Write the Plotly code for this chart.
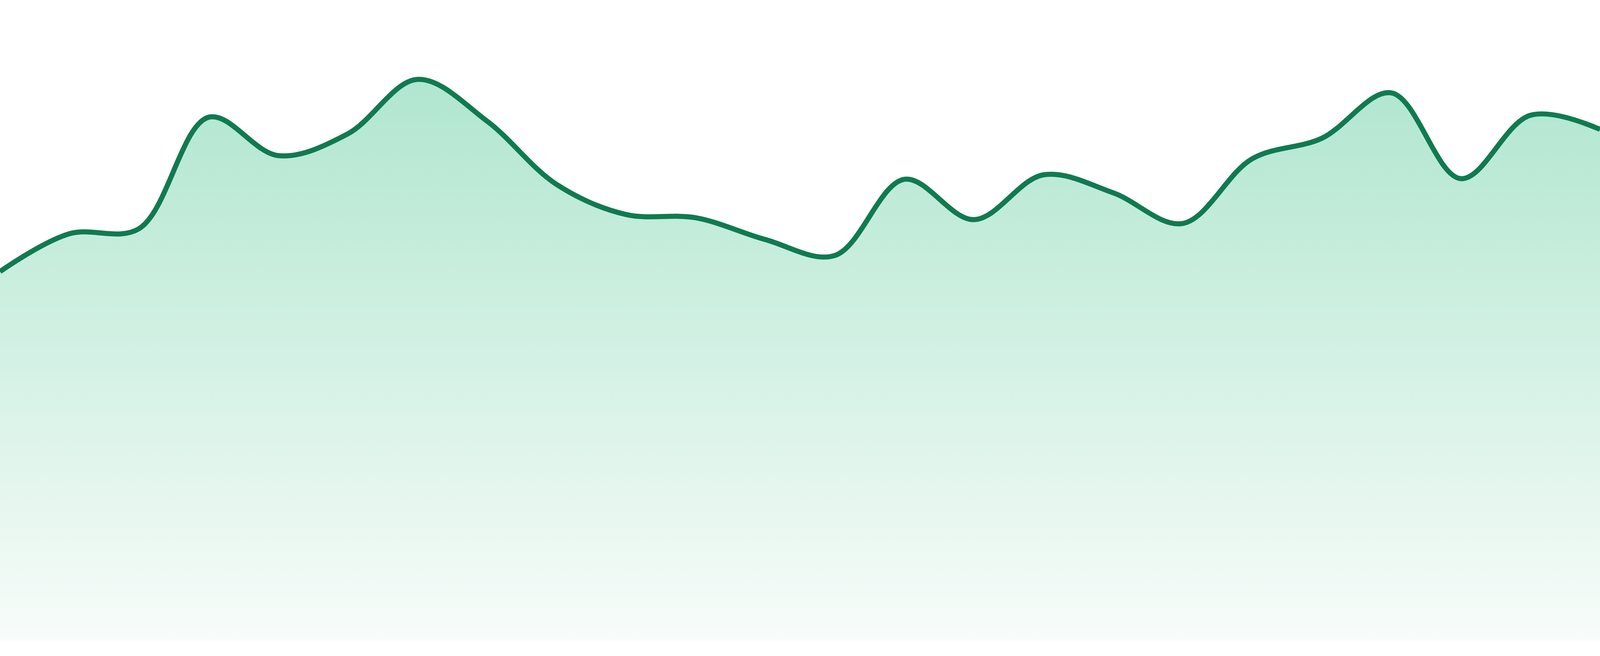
import plotly.graph_objects as go

# data points
steps = list(range(24))
values = [57.6, 63.5, 64.3, 81.7, 75.7, 79.1, 87.6, 81.1, 71.2, 66.5, 66.0, 62.6,
          60.1, 72.0, 65.7, 72.7, 69.9, 65.1, 75.2, 78.4, 85.5, 72.1, 82.0, 79.8]

line_color = "#107a50"

fig = go.Figure()

fig.add_trace(go.Scatter(
    x=steps,
    y=values,
    mode="lines",
    line=dict(color=line_color, width=13, shape="spline", smoothing=1),
    fill="tozeroy",
    fillgradient=dict(
        type="vertical",
        start=0,
        stop=max(values),
        colorscale=[[0, "rgb(248,252,250)"], [1, "rgb(176,230,207)"]],
    ),
    hoverinfo="skip",
    showlegend=False,
))

# baseline sits a little above the bottom edge (about 40 of 1680 px)
fig.update_layout(
    autosize=True,
    margin=dict(l=0, r=0, t=0, b=0),
    paper_bgcolor="white",
    plot_bgcolor="white",
    xaxis=dict(range=[0, 23], visible=False, fixedrange=True),
    yaxis=dict(range=[-100 * 40 / 1640, 100], visible=False, fixedrange=True),
)

fig.write_html(
    "out.html",
    config={"displayModeBar": False, "responsive": True},
    default_width="100vw",
    default_height="100vh",
    post_script="document.body.style.margin='0px';document.body.style.overflow='hidden';"
                "Plotly.Plots.resize(document.getElementById('{plot_id}'));",
)
